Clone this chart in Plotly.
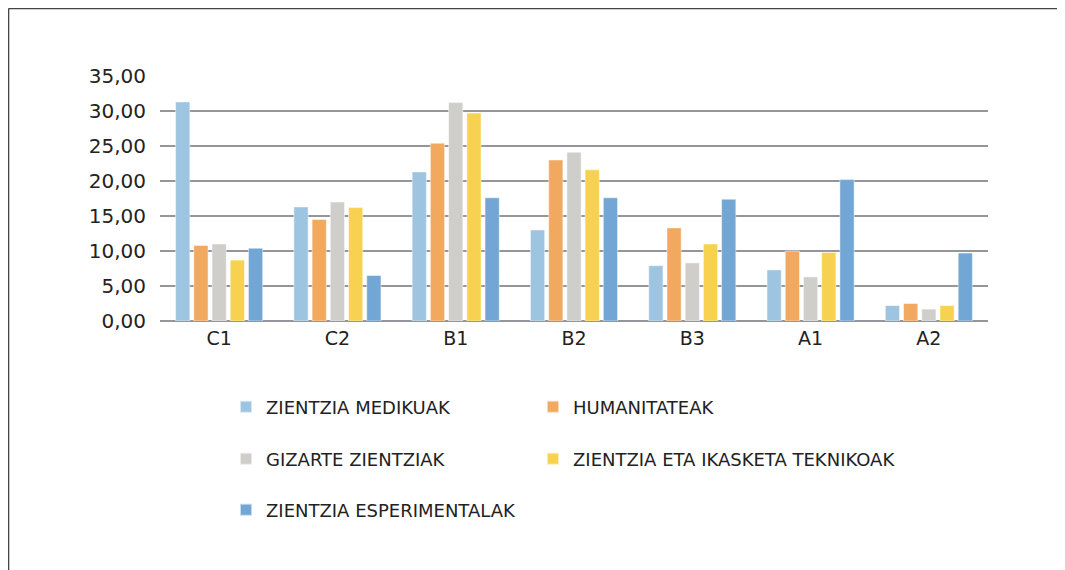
import plotly.graph_objects as go

categories = ["C1", "C2", "B1", "B2", "B3", "A1", "A2"]
series_names = [
    "ZIENTZIA MEDIKUAK",
    "HUMANITATEAK",
    "GIZARTE ZIENTZIAK",
    "ZIENTZIA ETA IKASKETA TEKNIKOAK",
    "ZIENTZIA ESPERIMENTALAK",
]
medikuak = [31.3, 16.3, 21.3, 13.0, 7.9, 7.3, 2.2]
humanitateak = [10.8, 14.5, 25.4, 23.0, 13.3, 10.0, 2.5]
gizarte = [11.0, 17.0, 31.2, 24.1, 8.3, 6.3, 1.7]
teknikoak = [8.7, 16.2, 29.7, 21.6, 11.0, 9.8, 2.2]
esperimentalak = [10.4, 6.5, 17.6, 17.6, 17.4, 20.2, 9.7]
colors = ["#9DC4E0", "#F1A95F", "#CFCECA", "#F7D251", "#72A6D4"]
y_ticks = [0, 5, 10, 15, 20, 25, 30, 35]

values = [medikuak, humanitateak, gizarte, teknikoak, esperimentalak]

# page body has an 8px margin, so the figure is sized/offset to compensate
OFF = 8
W, H = 1057, 562
L, R, T, B = 152, 77, 68, 249
PW, PH = W - L - R, H - T - B

# legend entry placement (screen px): text start x, row center y
leg_pos = [(267, 407), (574, 407), (267, 459), (574, 459), (267, 510)]
leg_ids = ["legend", "legend2", "legend3", "legend4", "legend5"]

fig = go.Figure()
for name, vals, col, lg in zip(series_names, values, colors, leg_ids):
    fig.add_trace(go.Bar(
        x=categories, y=vals, name=name, legend=lg,
        marker=dict(color=col, line=dict(color="rgba(255,255,255,0.6)", width=0.8)),
    ))

FONT = "DejaVu Sans"
legends = {}
for lg, (tx, ty) in zip(leg_ids, leg_pos):
    legends[lg] = dict(orientation="v", xanchor="left", yanchor="middle", xref="paper", yref="container",
                       x=(tx - 41 - OFF - L) / PW, y=1 - (ty - OFF) / H,
                       bgcolor="rgba(0,0,0,0)", font=dict(family=FONT, size=18, color="#222"),
                       itemsizing="constant")

fig.update_layout(
    width=W, height=H,
    margin=dict(l=L, r=R, t=T, b=B),
    paper_bgcolor="white", plot_bgcolor="white",
    barmode="group", bargap=0.23, bargroupgap=0.22,
    separators=",.",
    font=dict(family=FONT, color="#222"),
    xaxis=dict(showgrid=False, showline=False, ticks="", tickfont=dict(size=19, color="#222"),
               ticklabelstandoff=4),
    yaxis=dict(range=[0, 35], tickvals=y_ticks, tickformat=".2f", showgrid=True,
               gridcolor="#96969A", gridwidth=1.6, zeroline=True, zerolinecolor="#96969A",
               zerolinewidth=1.6, ticks="", tickfont=dict(size=20, color="#222"),
               ticklabelstandoff=13),
    showlegend=True,
    shapes=[
        dict(type="line", xref="paper", yref="paper", x0=-(L - 0.5) / PW, x1=1 + (R + 20) / PW,
             y0=1 + (T - 0.5) / PH, y1=1 + (T - 0.5) / PH,
             line=dict(color="#444", width=1.6)),
        dict(type="line", xref="paper", yref="paper", x0=-(L - 0.5) / PW, x1=-(L - 0.5) / PW,
             y0=1 + (T - 0.5) / PH, y1=-(B + 20) / PH,
             line=dict(color="#444", width=1.6)),
    ],
)
fig.update_layout(**legends)

fig.write_html("out.html")
